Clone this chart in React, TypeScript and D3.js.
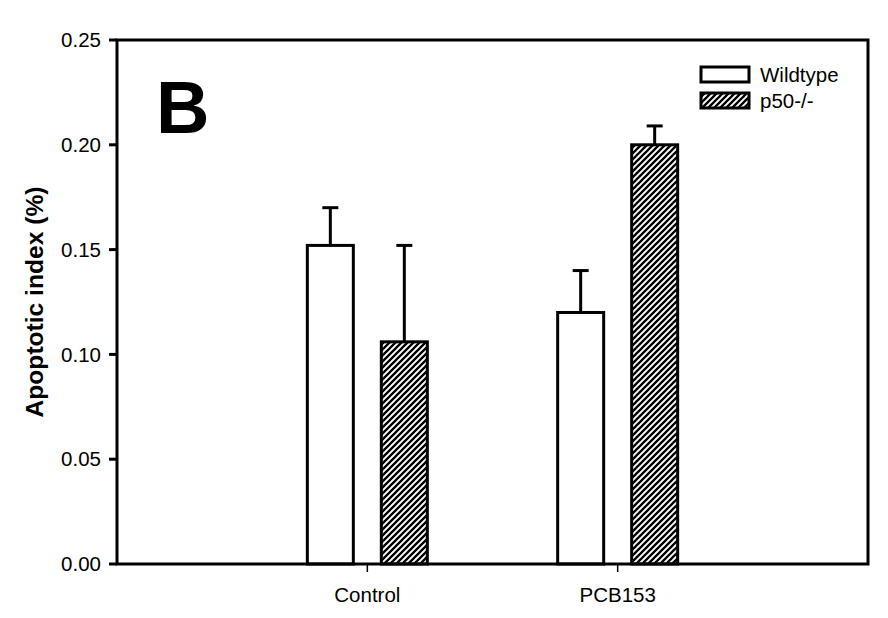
import React from "react";
import * as d3 from "d3";

const categories = ["Control", "PCB153"];
const seriesNames = ["Wildtype", "p50-/-"];
const wildtypeMeans = [0.152, 0.12];
const wildtypeErrors = [0.018, 0.02];
const p50Means = [0.106, 0.2];
const p50Errors = [0.046, 0.009];
const yTicks = [0, 0.05, 0.1, 0.15, 0.2, 0.25];

const W = 888;
const H = 618;
const M = { left: 117, right: 20, top: 40, bottom: 54 };

export default function App() {
  const x = d3.scaleLinear().domain([0, 3]).range([M.left, W - M.right]);
  const y = d3.scaleLinear().domain([0, 0.25]).range([H - M.bottom, M.top]);
  const barW = 46;
  const offset = 37;
  const font = "'Liberation Sans', Arial, sans-serif";
  const fs = 20.5;
  const series = [
    { name: seriesNames[0], means: wildtypeMeans, errs: wildtypeErrors, fill: "white", dx: -offset },
    { name: seriesNames[1], means: p50Means, errs: p50Errors, fill: "url(#hatch)", dx: offset },
  ];
  return (
    <svg width={W} height={H} style={{ position: "absolute", left: 0, top: 0, background: "white" }}>
      <defs>
        <pattern id="hatch" patternUnits="userSpaceOnUse" width={6} height={6}>
          <rect width={6} height={6} fill="white" />
          <path d="M0,6 L6,0 M-1.5,1.5 L1.5,-1.5 M4.5,7.5 L7.5,4.5" stroke="black" strokeWidth={2.3} />
        </pattern>
      </defs>
      {series.map((s, si) =>
        categories.map((c, ci) => {
          const cx = x(ci + 1) + s.dx;
          const top = y(s.means[ci]);
          const errTop = y(s.means[ci] + s.errs[ci]);
          return (
            <g key={`${si}-${ci}`}>
              <line x1={cx} x2={cx} y1={top} y2={errTop} stroke="black" strokeWidth={3} />
              <line x1={cx - 8} x2={cx + 8} y1={errTop} y2={errTop} stroke="black" strokeWidth={3} />
              <rect x={cx - barW / 2} y={top} width={barW} height={y(0) - top} fill={s.fill} stroke="black" strokeWidth={3} />
            </g>
          );
        })
      )}
      <rect x={M.left} y={M.top} width={W - M.right - M.left} height={H - M.bottom - M.top} fill="none" stroke="black" strokeWidth={3} />
      {yTicks.map((t) => (
        <g key={t}>
          <line x1={M.left - 8} x2={M.left} y1={y(t)} y2={y(t)} stroke="black" strokeWidth={3} />
          <text x={M.left - 16} y={y(t)} dy="0.35em" textAnchor="end" fontFamily={font} fontSize={fs}>
            {d3.format(".2f")(t)}
          </text>
        </g>
      ))}
      {categories.map((c, ci) => (
        <g key={c}>
          <line x1={x(ci + 1)} x2={x(ci + 1)} y1={y(0)} y2={y(0) + 8} stroke="black" strokeWidth={1.5} />
          <text x={x(ci + 1)} y={y(0) + 38} textAnchor="middle" fontFamily={font} fontSize={fs}>
            {c}
          </text>
        </g>
      ))}
      <text
        transform={`translate(43,${(M.top + H - M.bottom) / 2}) rotate(-90)`}
        textAnchor="middle"
        fontFamily={font}
        fontWeight="bold"
        fontSize={24.6}
      >
        Apoptotic index (%)
      </text>
      <text x={156} y={133} fontFamily={font} fontWeight="bold" fontSize={74}>
        B
      </text>
      {series.map((s, i) => (
        <g key={s.name}>
          <rect x={701} y={67 + i * 26} width={48} height={15} fill={s.fill} stroke="black" strokeWidth={3} />
          <text x={760} y={82 + i * 26} fontFamily={font} fontSize={fs}>
            {s.name}
          </text>
        </g>
      ))}
    </svg>
  );
}
